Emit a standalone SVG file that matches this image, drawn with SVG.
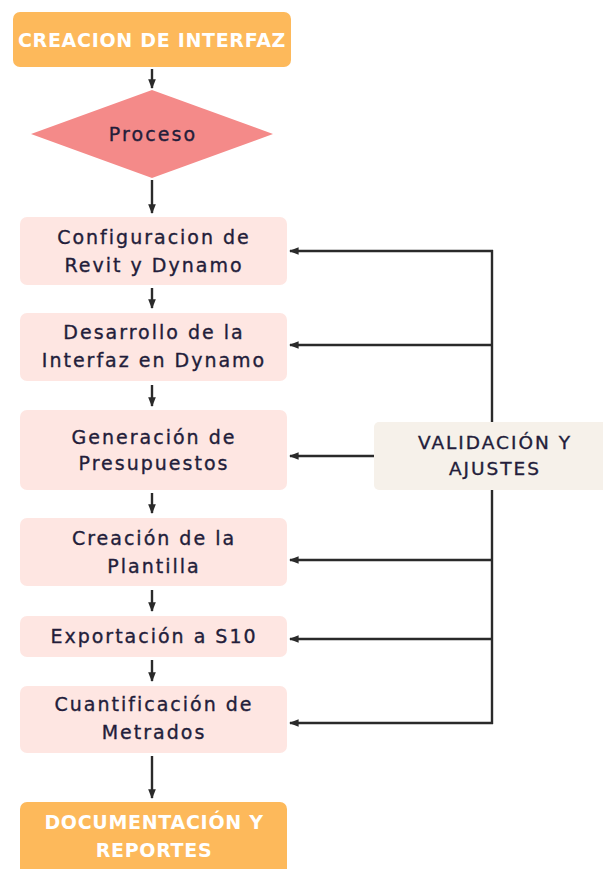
<svg xmlns="http://www.w3.org/2000/svg" width="603" height="869" viewBox="0 0 603 869">
<defs>
<marker id="ah" viewBox="0 0 10 10" refX="9" refY="5" markerWidth="4" markerHeight="4" orient="auto-start-reverse" markerUnits="strokeWidth">
<path d="M0,1 L10,5 L0,9 Z" fill="#2a2a2a"/>
</marker>
<style>
.hd{fill:#fdb95b}
.bx{fill:#fee6e2}
.val{fill:#f6f1ea}
.t{font-family:"DejaVu Sans","Liberation Sans",sans-serif;font-size:19px;fill:#231d3a;stroke:#231d3a;stroke-width:0.35;text-anchor:middle;dominant-baseline:central;letter-spacing:2px}
.th{font-family:"DejaVu Sans","Liberation Sans",sans-serif;font-weight:bold;font-size:19px;fill:#ffffff;text-anchor:middle;dominant-baseline:central;letter-spacing:0.7px}
.tv{font-family:"DejaVu Sans","Liberation Sans",sans-serif;font-size:18.5px;fill:#231d3a;stroke:#231d3a;stroke-width:0.35;text-anchor:middle;dominant-baseline:central;letter-spacing:2px}
.tp{font-family:"DejaVu Sans","Liberation Sans",sans-serif;font-size:19px;fill:#231d3a;stroke:#231d3a;stroke-width:0.35;text-anchor:middle;dominant-baseline:central;letter-spacing:2.1px}
.ln{stroke:#2a2a2a;stroke-width:2.4;fill:none}
.ar{stroke:#2a2a2a;stroke-width:2.4;fill:none;marker-end:url(#ah)}
</style>
</defs>
<rect width="603" height="869" fill="#ffffff"/>
<g id="connectors">
<line class="ar" x1="152" y1="69" x2="152" y2="88"/>
<line class="ar" x1="152" y1="180" x2="152" y2="213"/>
<line class="ar" x1="152" y1="288" x2="152" y2="308"/>
<line class="ar" x1="152" y1="385" x2="152" y2="406"/>
<line class="ar" x1="152" y1="493" x2="152" y2="513"/>
<line class="ar" x1="152" y1="590" x2="152" y2="611"/>
<line class="ar" x1="152" y1="660" x2="152" y2="681"/>
<line class="ar" x1="152" y1="756" x2="152" y2="798"/>
<line class="ln" x1="492" y1="250" x2="492" y2="422"/>
<line class="ln" x1="492" y1="490" x2="492" y2="724"/>
<line class="ar" x1="493" y1="251" x2="290" y2="251"/>
<line class="ar" x1="493" y1="345" x2="290" y2="345"/>
<line class="ar" x1="374" y1="456" x2="290" y2="456"/>
<line class="ar" x1="493" y1="560" x2="290" y2="560"/>
<line class="ar" x1="493" y1="639" x2="290" y2="639"/>
<line class="ar" x1="493" y1="723" x2="290" y2="723"/>
</g>
<g id="n-creacion">
<rect class="hd" x="13" y="12" width="278" height="55" rx="7"/>
<text class="th" x="152" y="40">CREACION DE INTERFAZ</text>
</g>
<g id="n-proceso">
<polygon points="152,90 273,134 152,178 31,134" fill="#f48a89"/>
<text class="tp" x="153" y="134">Proceso</text>
</g>
<g id="n-config">
<rect class="bx" x="20" y="217" width="267" height="68" rx="7"/>
<text class="t" x="154" y="237">Configuracion de</text>
<text class="t" x="154" y="265">Revit y Dynamo</text>
</g>
<g id="n-desarrollo">
<rect class="bx" x="20" y="313" width="267" height="68" rx="7"/>
<text class="t" x="154" y="332">Desarrollo de la</text>
<text class="t" x="154" y="360">Interfaz en Dynamo</text>
</g>
<g id="n-generacion">
<rect class="bx" x="20" y="410" width="267" height="80" rx="7"/>
<text class="t" x="154" y="437">Generación de</text>
<text class="t" x="154" y="463">Presupuestos</text>
</g>
<g id="n-plantilla">
<rect class="bx" x="20" y="518" width="267" height="68" rx="7"/>
<text class="t" x="154" y="538">Creación de la</text>
<text class="t" x="154" y="566">Plantilla</text>
</g>
<g id="n-exportacion">
<rect class="bx" x="20" y="616" width="267" height="41" rx="7"/>
<text class="t" x="154" y="636">Exportación a S10</text>
</g>
<g id="n-cuantificacion">
<rect class="bx" x="20" y="686" width="267" height="67" rx="7"/>
<text class="t" x="154" y="704">Cuantificación de</text>
<text class="t" x="154" y="732">Metrados</text>
</g>
<g id="n-documentacion">
<rect class="hd" x="20" y="802" width="267" height="80" rx="7"/>
<text class="th" x="154" y="822">DOCUMENTACIÓN Y</text>
<text class="th" x="154" y="850">REPORTES</text>
</g>
<g id="n-validacion">
<rect class="val" x="374" y="422" width="240" height="68" rx="5"/>
<text class="tv" x="495" y="442">VALIDACIÓN Y</text>
<text class="tv" x="495" y="468">AJUSTES</text>
</g>
</svg>
